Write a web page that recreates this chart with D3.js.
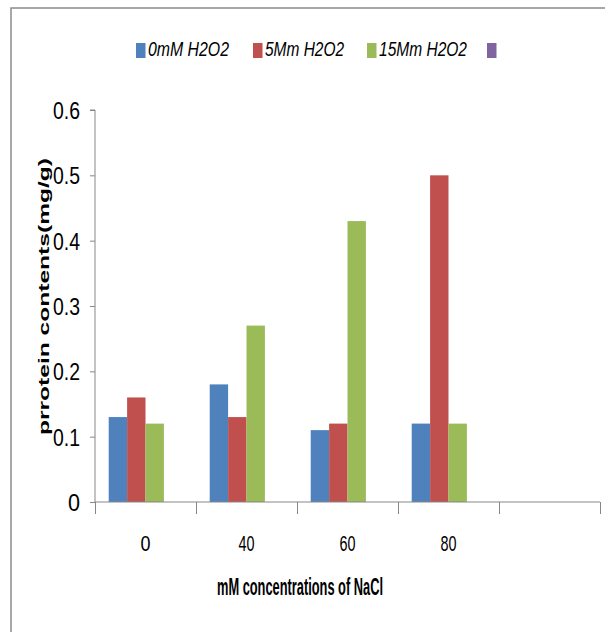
<!DOCTYPE html>
<html><head><meta charset="utf-8">
<script src="https://cdn.jsdelivr.net/npm/d3@7/dist/d3.min.js"></script>
<style>
html,body{margin:0;padding:0;background:#fff;}
svg{display:block;}
text{font-family:"Liberation Sans","DejaVu Sans",sans-serif;fill:#000;}
</style></head>
<body>
<script>
// ---- data ----
const categories = ["0", "40", "60", "80", ""];
const seriesNames = ["0mM H2O2", "5Mm H2O2", "15Mm H2O2", ""];
const seriesColors = ["#4F81BD", "#C0504D", "#9BBB59", "#8064A2"];
const values0mM = [0.13, 0.18, 0.11, 0.12, null];
const values5mM = [0.16, 0.13, 0.12, 0.50, null];
const values15mM = [0.12, 0.27, 0.43, 0.12, null];
const valuesEmpty = [null, null, null, null, null];
const yTicks = [0, 0.1, 0.2, 0.3, 0.4, 0.5, 0.6];
const yTickLabels = ["0", "0.1", "0.2", "0.3", "0.4", "0.5", "0.6"];
const xTitle = "mM concentrations of NaCl";
const yTitle = "prrotein contents(mg/g)";

const allSeries = [values0mM, values5mM, values15mM, valuesEmpty];

const W = 605, H = 632;
const svg = d3.select("body").append("svg").attr("width", W).attr("height", H);

// frame
svg.append("path").attr("d", `M11,${H} L11,8 L${W},8`).attr("fill","none")
  .attr("stroke","#8c8c8c").attr("stroke-width",1.5);

const pLeft = 95, pRight = 600, pTop = 110, pBottom = 502;
const y = d3.scaleLinear().domain([0, 0.6]).range([pBottom, pTop]);
const x0 = d3.scaleBand().domain(categories.map((c,i)=>i)).range([pLeft, pRight]).padding(0);
const x1 = d3.scaleBand().domain(d3.range(seriesNames.length)).range([0, x0.bandwidth()])
  .paddingInner(0).paddingOuter(0.745);

// bars
const g = svg.append("g");
allSeries.forEach((vals, si) => {
  g.selectAll(null).data(vals.map((v,ci)=>({v,ci})).filter(d=>d.v!=null))
    .join("rect")
    .attr("x", d => x0(d.ci) + x1(si))
    .attr("y", d => y(d.v))
    .attr("width", x1.bandwidth())
    .attr("height", d => y(0) - y(d.v))
    .attr("fill", seriesColors[si]);
});

// y axis
const yAxis = svg.append("g").attr("transform", `translate(${pLeft},0)`)
  .call(d3.axisLeft(y).tickValues(yTicks).tickSize(5).tickPadding(10)
    .tickFormat((d,i)=>yTickLabels[i]));
yAxis.select(".domain").attr("stroke","#878787").attr("d", `M-5,${pTop}H0V${pBottom}`);
yAxis.selectAll(".tick line").attr("stroke","#878787");
yAxis.selectAll(".tick text")
  .attr("font-size", 23.5).attr("dy", null).attr("y", 8.5)
  .attr("font-family", "'Liberation Sans',sans-serif")
  .attr("textLength", (d,i)=> yTickLabels[i].length === 1 ? 12 : 27)
  .attr("lengthAdjust","spacingAndGlyphs")
  .attr("fill","#000");

// x axis: boundary ticks
const xb = d3.scaleLinear().domain([0, categories.length]).range([pLeft, pRight]);
const xAxisT = svg.append("g").attr("transform", `translate(0,${pBottom})`)
  .call(d3.axisBottom(xb).tickValues(d3.range(categories.length+1))
    .tickSize(12).tickFormat(""));
xAxisT.select(".domain").attr("stroke","#878787").attr("d", `M${pLeft},0H${pRight}`);
xAxisT.selectAll(".tick line").attr("stroke","#878787");

// x axis labels
const xAxisL = svg.append("g").attr("transform", `translate(0,${pBottom})`)
  .call(d3.axisBottom(x0).tickSize(0).tickPadding(0).tickFormat(i=>categories[i]));
xAxisL.select(".domain").remove();
xAxisL.selectAll(".tick text")
  .attr("font-size", 22).attr("dy", null).attr("y", 49)
  .attr("textLength", (d)=> categories[d].length === 1 ? 10 : 16)
  .attr("lengthAdjust","spacingAndGlyphs")
  .attr("fill","#000");

// axis titles
svg.append("text").text(xTitle)
  .attr("x", 300).attr("y", 595).attr("text-anchor","middle")
  .attr("font-size", 23).attr("font-weight","bold")
  .attr("textLength", 166).attr("lengthAdjust","spacingAndGlyphs");

svg.append("text").text(yTitle)
  .attr("transform", "translate(49,296.5) rotate(-90)")
  .attr("text-anchor","middle")
  .attr("font-size", 15).attr("font-weight","bold")
  .attr("textLength", 277).attr("lengthAdjust","spacingAndGlyphs");

// legend
const legendSquareX = [136, 253, 367, 487];
const legendTextW = [81, 79, 88, 0];
const lg = svg.append("g");
seriesNames.forEach((name, i) => {
  lg.append("rect").attr("x", legendSquareX[i]).attr("y", 43).attr("width", 9.5).attr("height", 15)
    .attr("fill", seriesColors[i]);
  if (name) {
    lg.append("text").text(name)
      .attr("x", legendSquareX[i] + 12).attr("y", 56)
      .attr("font-size", 19.5).attr("font-style","italic")
      .attr("textLength", legendTextW[i]).attr("lengthAdjust","spacingAndGlyphs");
  }
});
</script>
</body></html>
